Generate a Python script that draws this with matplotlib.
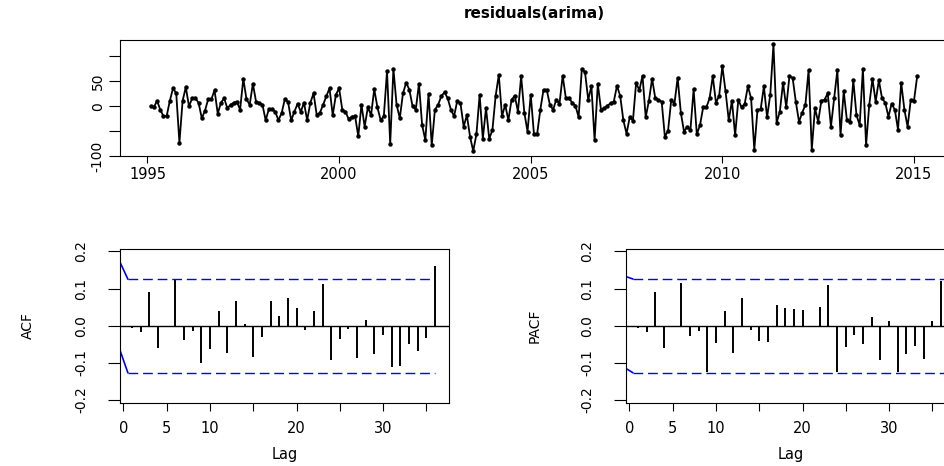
import numpy as np
import matplotlib
matplotlib.use("Agg")
import matplotlib.pyplot as plt

plt.rcParams['font.family'] = ['DejaVu Sans']

# --- residual series (monthly, starting Feb 1995) ---
start = 1995 + 1 / 12
resid = [
    0, -2, 11, -7, -20, -20, 11, 36, 26, -73,
    11, 38, 0, 16, 16, 7, -24, -9, 14, 14,
    32, -15, 7, 16, -4, 3, 7, 9, -7, 55,
    14, 3, 45, 9, 7, 3, -28, -6, -6, -11,
    -28, -14, 14, 9, -28, -11, 5, -11, 7, -28,
    7, 26, -18, -13, 3, 20, 36, -18, 23, 36,
    -7, -11, -26, -21, -20, -60, 3, -41, -2, -18,
    34, -2, -28, -20, 70, -75, 75, 3, -24, 26,
    47, 33, 0, -7, 45, -38, -68, 25, -78, -7,
    3, 20, 28, 16, -7, -20, 11, 6, -41, -18,
    -61, -90, -56, 23, -65, -4, -65, -48, 20, 63,
    -20, 3, -28, 13, 21, -11,
    60, -13, -51, 23, -55, -56, -7, 33, 33, 3,
    -7, 13, 5, 61, 16, 16, 7, 1, -22, 75,
    68, 13, 40, -68, 45, -7, -4, 1, 6, 9,
    41, 21, -28, -55, -22, -29, 47, 32, 61, -22,
    11, 55, 16, 13, 9, -61, -49, 13, 5, 57,
    -13, -51, -41, -48, 34, -56, -38, -2, -2, 16,
    60, 7, 21, 80, 30, -28, 11, -58, 13, -2,
    5, 40, 16, -87, -7, -6, 40, -22, 23, 124,
    -33, -11, 47, -2, 60, 57, 9, -31, -13, 3,
    72, -87, -4, -31, 11, 13, 26, -41, 16, 72,
    -58, 30, -28, -31, 52, -18, -38, 75, -78, 3,
    55, 9, 52, 16, 7, -21, 5, -7, -47, 47,
    -7, -41, 13, 11, 60,
]
year_ticks = [1995, 2000, 2005, 2010, 2015]
ts_yticks = [-100, -50, 0, 50, 100]
ts_ylabels = ['-100', '', '0', '50', '']

# --- correlograms ---
lags = list(range(1, 37))
acf_vals = [-0.005, -0.017, 0.091, -0.060, -0.004, 0.124, -0.037, -0.014, -0.100, -0.062,
            0.041, -0.073, 0.066, 0.004, -0.084, -0.030, 0.066, 0.025, 0.075, 0.047,
            -0.011, 0.040, 0.113, -0.093, -0.035, -0.009, -0.086, 0.016, -0.077, -0.024,
            -0.111, -0.108, -0.048, -0.068, -0.032, 0.162]
pacf_vals = [-0.006, -0.017, 0.091, -0.060, 0.000, 0.115, -0.027, -0.014, -0.125, -0.047,
             0.041, -0.073, 0.075, -0.011, -0.041, -0.044, 0.057, 0.048, 0.046, 0.043,
             -0.004, 0.050, 0.110, -0.125, -0.056, -0.024, -0.048, 0.023, -0.093, 0.014,
             -0.125, -0.075, -0.055, -0.089, 0.013, 0.120]
ci = 0.126
acf_lead_lags = [-0.46, 0.5]
acf_lead_up = [0.174, ci]
acf_lead_lo = [-0.062, -ci]
pacf_lead_lags = [-0.46, 0.38]
pacf_lead_up = [0.133, ci]
pacf_lead_lo = [-0.114, -ci]
lag_ticks = [0, 5, 10, 15, 20, 25, 30, 35]
lag_labels = ['0', '5', '10', '', '20', '', '30', '']
cf_ticks = [-0.2, -0.1, 0.0, 0.1, 0.2]

fig = plt.figure(figsize=(9.45, 4.66), dpi=100)

# top: time series
ax = fig.add_axes([0.127, 0.665, 0.876, 0.249])
t = start + np.arange(len(resid)) / 12
ax.plot(t, resid, color='black', lw=1.3, marker='o', ms=2.2)
ax.set_xlim(start - 0.8, t[-1] + 0.8)
ax.set_ylim(-98.6, 132.6)
ax.set_xticks(year_ticks)
ax.set_yticks(ts_yticks)
ax.set_yticklabels(ts_ylabels, rotation=90, va='center')
ax.tick_params(axis='x', length=5, pad=3, labelsize=10.5)
ax.tick_params(axis='y', length=8, pad=3, labelsize=10)
ax.set_title('residuals(arima)', fontsize=11, fontweight='bold', pad=16)


def correlogram(ax, vals, lead_x, lead_up, lead_lo, ylabel, dash_end):
    ax.vlines(lags, 0, vals, color='black', lw=1.4)
    ax.axhline(0, color='black', lw=1)
    ax.plot(lead_x, lead_up, color='blue', lw=1.2)
    ax.plot(lead_x, lead_lo, color='blue', lw=1.2)
    ax.plot([lead_x[-1], dash_end], [ci, ci], color='blue', lw=1, dashes=(7, 3.5))
    ax.plot([lead_x[-1], dash_end], [-ci, -ci], color='blue', lw=1, dashes=(7, 3.5))
    ax.set_xlim(-0.4, 37.6)
    ax.set_ylim(-0.208, 0.207)
    ax.set_xticks(lag_ticks)
    ax.set_xticklabels(lag_labels)
    ax.set_yticks(cf_ticks)
    ax.set_yticklabels(['%.1f' % v for v in cf_ticks], rotation=90, va='center')
    ax.tick_params(axis='x', length=6, pad=7, labelsize=10.5)
    ax.tick_params(axis='y', length=9, pad=14, labelsize=10)
    ax.set_xlabel('Lag', fontsize=10.5, labelpad=8)
    ax.set_ylabel(ylabel, fontsize=10, labelpad=28)


ax1 = fig.add_axes([0.127, 0.135, 0.348, 0.331])
correlogram(ax1, acf_vals, acf_lead_lags, acf_lead_up, acf_lead_lo, 'ACF', 36)

ax2 = fig.add_axes([0.6624, 0.135, 0.348, 0.331])
correlogram(ax2, pacf_vals, pacf_lead_lags, pacf_lead_up, pacf_lead_lo, 'PACF', 37.6)

fig.savefig('out.png', dpi=100)
